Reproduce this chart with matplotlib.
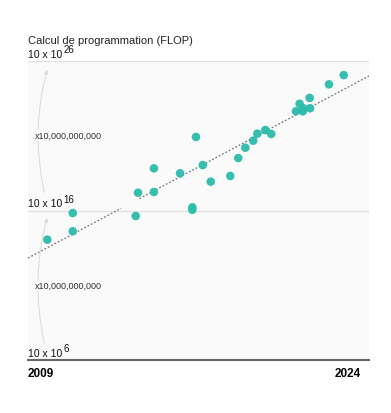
import numpy as np
import matplotlib.pyplot as plt
from matplotlib.patches import FancyArrowPatch

plt.rcParams['font.family'] = ['Liberation Sans', 'DejaVu Sans']

# data: year of the model, log10 of training compute (FLOP)
years = [2009.85, 2010.97, 2010.97, 2013.74, 2013.84, 2014.54, 2014.54, 2015.69,
         2016.23, 2016.23, 2016.39, 2016.69, 2017.04, 2017.90, 2018.25, 2018.56,
         2018.91, 2019.09, 2019.44, 2019.70, 2020.79, 2020.95, 2021.09, 2021.11,
         2021.39, 2021.41, 2022.24, 2022.89]
log_flop = [15.05, 16.83, 15.61, 16.63, 18.19, 19.82, 18.24, 19.49,
            17.21, 17.05, 21.92, 20.04, 18.93, 19.31, 20.51, 21.20,
            21.67, 22.14, 22.38, 22.12, 23.64, 24.14, 23.64, 23.84,
            24.53, 23.84, 25.44, 26.06]

trend_years = [2009.0, 2024.0]
trend_log = [13.82, 26.0]
trend_gap = (2013.1, 2013.9)

tick_exp = [6, 16, 26]
year_labels = ['2009', '2024']
step_label = 'x10,000,000,000'

teal = '#2bbcaa'

fig = plt.figure(figsize=(3.91, 4.14), dpi=100)
ax = fig.add_axes([0.0716, 0.128, 0.872, 0.7222])
ax.set_facecolor('#fafafa')
ax.set_yscale('log')
ax.set_xlim(2009, 2024)
ax.set_ylim(1e7, 1e27)

for e in tick_exp[1:]:
    ax.axhline(10.0 ** (e + 1), color='#e2e2e2', lw=1, zorder=1)

# trend line, drawn in two parts
slope = (trend_log[1] - trend_log[0]) / (trend_years[1] - trend_years[0])
for x0, x1 in [(trend_years[0], trend_gap[0]), (trend_gap[1], trend_years[1])]:
    xs = np.array([x0, x1])
    ys = 10.0 ** (trend_log[0] + slope * (xs - trend_years[0]))
    ax.plot(xs, ys, ls=(0, (1.5, 1.5)), color='#777777', lw=0.9, zorder=2)

ax.scatter(years, 10.0 ** np.array(log_flop), s=38, color=teal,
           edgecolors='none', alpha=0.95, zorder=3)

# y labels: "10 x 10" with exponent
for e in tick_exp:
    yv = 10.0 ** (e + 1)
    ax.annotate('10 x 10', (2009, yv), xytext=(0, 1.5), textcoords='offset points',
                fontsize=7.5, color='#111111', ha='left', va='bottom', zorder=5)
    ax.annotate(str(e), (2009, yv), xytext=(25.5, 5), textcoords='offset points',
                fontsize=7, color='#111111', ha='left', va='bottom', zorder=5)

# curved arrows between levels
for lo, hi, mid in [(7.94, 16.7, 12.0), (18.04, 26.6, 22.0)]:
    arr = FancyArrowPatch((2009.75, 10.0 ** lo), (2009.88, 10.0 ** hi),
                          connectionstyle='arc3,rad=-0.13', arrowstyle='-|>',
                          mutation_scale=6, color='#dddddd', lw=0.8, zorder=2)
    ax.add_patch(arr)
    ax.text(2009.3, 10.0 ** mid, step_label, fontsize=6.5, color='#333333',
            ha='left', va='center', zorder=4,
            bbox=dict(boxstyle='square,pad=0.1', fc='#fafafa', ec='none'))

fig.text(0.0716, 0.888, 'Calcul de programmation (FLOP)', fontsize=8,
         color='#222222', ha='left', va='bottom')

for s in ['top', 'right', 'left']:
    ax.spines[s].set_visible(False)
ax.spines['bottom'].set_color('#666666')
ax.spines['bottom'].set_linewidth(1.5)
ax.set_xticks([])
ax.set_yticks([])
ax.minorticks_off()

ax.text(0.0, -0.025, year_labels[0], transform=ax.transAxes, fontsize=8.5,
        fontweight='bold', ha='left', va='top')
ax.text(0.977, -0.025, year_labels[1], transform=ax.transAxes, fontsize=8.5,
        fontweight='bold', ha='right', va='top')

fig.savefig('out.png', dpi=100, facecolor='white')
